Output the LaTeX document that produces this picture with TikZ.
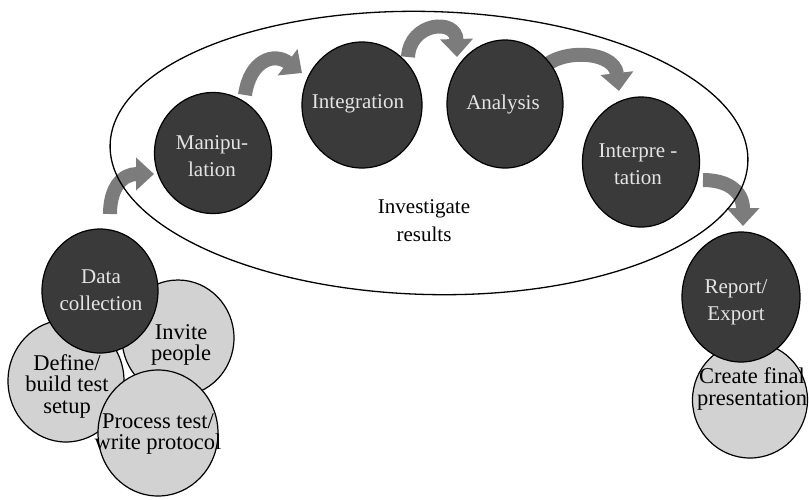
\documentclass[tikz,border=0pt]{standalone}
\usepackage{fontspec}
\setmainfont{Liberation Serif}
\usetikzlibrary{shapes.geometric,arrows.meta}
\definecolor{darkfill}{HTML}{3A3A3A}
\definecolor{lightfill}{HTML}{D2D2D2}
\definecolor{arrowgray}{HTML}{7C7C7C}
\definecolor{darktext}{HTML}{E4E4E4}
\begin{document}
\begin{tikzpicture}[x=1pt,y=-1pt,
  darkc/.style={ellipse, draw=black, line width=1.2pt, fill=darkfill, inner sep=0pt},
  lightc/.style={ellipse, draw=black, line width=1.2pt, fill=lightfill, inner sep=0pt},
  darkt/.style={text=darktext, align=center, font=\fontsize{21}{27}\selectfont, inner sep=0pt},
  lightt/.style={text=black, align=center, font=\fontsize{22.5}{21.5}\selectfont, inner sep=0pt},
  midt/.style={text=black, align=center, font=\fontsize{21}{28}\selectfont, inner sep=0pt},
  flow/.style={draw=arrowgray, line width=14pt, -{Triangle[width=32pt,length=18pt]}},
  ring/.style={draw=black, line width=1.3pt}
]
\useasboundingbox (0,0) rectangle (809,499);

% arrow end points
\coordinate (a1s) at (110,214); \coordinate (a1e) at (154,174);
\coordinate (a2s) at (245,95);  \coordinate (a2e) at (302,73);
\coordinate (a3s) at (408,57);  \coordinate (a3e) at (457,57);
\coordinate (a4s) at (538,76);  \coordinate (a4e) at (619,91);
\coordinate (a5s) at (703,180); \coordinate (a5e) at (743,226);

% curved block arrows
\draw[flow] (a1s) .. controls (110,188) and (122,174) .. (a1e);
\draw[flow] (a2s) .. controls (250,60) and (274,52) .. (a2e);
\draw[flow] (a3s) .. controls (410,22) and (456,18) .. (a3e);
\draw[flow] (a4s) .. controls (548,48) and (614,48) .. (a4e);
\draw[flow] (a5s) .. controls (726,180) and (743,190) .. (a5e);

% big ellipse
\draw[ring, rotate around={-1.5:(429,153)}] (429,153) ellipse [x radius=319, y radius=141.5];
\node[midt] (inv0) at (424,221) {Investigate\\results};

% left cluster
\node[lightc, minimum width=116pt, minimum height=122pt] (def) at (66,381) {};
\node[lightc, minimum width=112pt, minimum height=116pt] (inv) at (178,338) {};
\node[lightc, minimum width=120pt, minimum height=126pt] (proc) at (158,433) {};
\node[darkc, minimum width=116pt, minimum height=124pt] (dc) at (100,291) {};
\node[lightt] (deft) at (67,386) {Define/\\build test\\setup};
\node[lightt] (invt) at (181,345) {Invite\\people};
\node[lightt] (proct) at (158,434) {Process test/\\write protocol};
\node[darkt] (dct) at (101,290) {Data\\collection};

% process circles
\node[darkc, minimum width=117pt, minimum height=121pt] (man) at (213,153) {};
\node[darkt] (mant) at (212,156) {Manipu-\\lation};
\node[darkc, minimum width=120pt, minimum height=126pt] (int) at (362,105) {};
\node[darkt] (intt) at (358,104) {Integration};
\node[darkc, minimum width=116pt, minimum height=128pt] (ana) at (505,104) {};
\node[darkt] (anat) at (503,104) {Analysis};
\node[darkc, minimum width=117pt, minimum height=130pt] (intp) at (641,162) {};
\node[darkt] (intpt) at (638,164) {Interpre -\\tation};

% right cluster
\node[lightc, minimum width=115pt, minimum height=116pt] (cre) at (750,400) {};
\node[darkc, minimum width=118pt, minimum height=130pt] (rep) at (741,297) {};
\node[darkt] (rept) at (736,302) {Report/\\Export};
\node[lightt] (cret) at (752,389) {Create final\\presentation};
\end{tikzpicture}
\end{document}
